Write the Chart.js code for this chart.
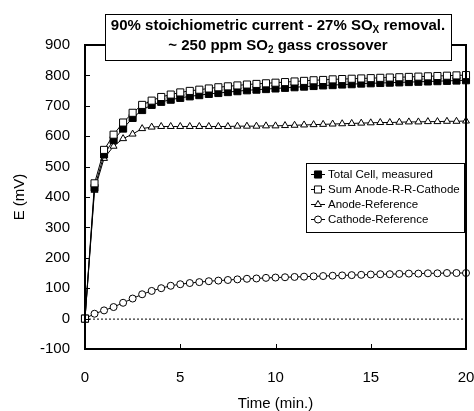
<!DOCTYPE html>
<html>
<head>
<meta charset="utf-8">
<script src="https://cdn.jsdelivr.net/npm/chart.js@4/dist/chart.umd.min.js"></script>
<style>
  html, body { margin: 0; padding: 0; background: #fff; }
</style>
</head>
<body>
<canvas id="myChart" width="474" height="411"></canvas>
<script>
// Time axis (min.)
const times = [0, 0.5, 1, 1.5, 2, 2.5, 3, 3.5, 4, 4.5, 5, 5.5, 6, 6.5, 7, 7.5, 8, 8.5, 9, 9.5, 10,
  10.5, 11, 11.5, 12, 12.5, 13, 13.5, 14, 14.5, 15, 15.5, 16, 16.5, 17, 17.5, 18, 18.5, 19, 19.5, 20];

// Potentials (mV)
const totalCell = [0, 430, 540, 587, 625, 660, 686, 703, 713, 720, 726, 731, 735, 739, 742, 745, 748, 751, 753, 755, 757,
  759, 761, 763, 765, 767, 768, 770, 771, 773, 774, 775, 776, 777, 778, 779, 780, 781, 782, 783, 784];
const sumAnodeCathode = [0, 445, 555, 605, 645, 677, 703, 717, 729, 737, 744, 749, 753, 757, 761, 764, 767, 770, 772, 774, 776,
  778, 780, 782, 784, 785, 787, 788, 789, 790, 791, 792, 793, 794, 795, 796, 797, 798, 799, 800, 801];
const anodeRef = [0, 422, 527, 567, 592, 607, 625, 630, 632, 632, 632, 632, 632, 632, 632, 632, 633, 633, 633, 634, 634,
  635, 636, 637, 638, 639, 640, 641, 642, 643, 644, 645, 645, 646, 647, 647, 648, 648, 649, 649, 650];
const cathodeRef = [0, 16, 27, 38, 52, 66, 80, 91, 100, 108, 113, 117, 120, 123, 125, 127, 129, 131, 132, 134, 135,
  136, 137, 138, 139, 140, 141, 142, 143, 144, 145, 146, 146, 147, 148, 148, 149, 149, 150, 150, 150];

const seriesNames = ['Total Cell, measured', 'Sum Anode-R-R-Cathode', 'Anode-Reference', 'Cathode-Reference'];
const xTicks = [0, 5, 10, 15, 20];
const yTicks = [-100, 0, 100, 200, 300, 400, 500, 600, 700, 800, 900];

const toPoints = arr => arr.map((v, i) => ({ x: times[i], y: v }));

const baseFont = '"Liberation Sans", Arial, sans-serif';

const datasets = [
  { label: seriesNames[0], data: toPoints(totalCell), pointStyle: 'rect', pointRadius: 5,
    pointBackgroundColor: '#000', order: 2 },
  { label: seriesNames[1], data: toPoints(sumAnodeCathode), pointStyle: 'rect', pointRadius: 5,
    pointBackgroundColor: '#fff', order: 1 },
  { label: seriesNames[2], data: toPoints(anodeRef), pointStyle: 'triangle', pointRadius: 4,
    pointBackgroundColor: '#fff', order: 3 },
  { label: seriesNames[3], data: toPoints(cathodeRef), pointStyle: 'circle', pointRadius: 3.5,
    pointBackgroundColor: '#fff', order: 4 }
].map(d => Object.assign({
  borderColor: '#000', borderWidth: 1, pointBorderColor: '#000', pointBorderWidth: 1,
  pointHoverRadius: 0, tension: 0, clip: false
}, d));

// Frame, inward tick marks, dotted zero line, note box and legend box
const decorations = {
  id: 'decorations',
  beforeDatasetsDraw(chart) {
    const { ctx, chartArea: a, scales } = chart;
    const y0 = scales.y.getPixelForValue(0);
    ctx.save();
    ctx.strokeStyle = '#000';
    ctx.lineWidth = 1;
    ctx.setLineDash([2, 2]);
    ctx.beginPath();
    ctx.moveTo(a.left, y0 + 0.5);
    ctx.lineTo(a.right, y0 + 0.5);
    ctx.stroke();
    ctx.restore();
  },
  afterDatasetsDraw(chart) {
    const { ctx, chartArea: a, scales } = chart;
    ctx.save();
    ctx.strokeStyle = '#000';
    ctx.lineWidth = 2;
    ctx.strokeRect(a.left, a.top, a.right - a.left, a.bottom - a.top);
    ctx.lineWidth = 1;
    ctx.beginPath();
    yTicks.forEach(v => {
      const y = Math.round(scales.y.getPixelForValue(v)) + 0.5;
      ctx.moveTo(a.left, y);
      ctx.lineTo(a.left + 5, y);
    });
    xTicks.slice(1, -1).forEach(v => {
      const x = Math.round(scales.x.getPixelForValue(v)) + 0.5;
      ctx.moveTo(x, a.bottom);
      ctx.lineTo(x, a.bottom - 5);
    });
    ctx.stroke();
    ctx.restore();
  },
  afterDraw(chart) {
    const { ctx } = chart;
    ctx.save();

    // note box
    ctx.fillStyle = '#fff';
    ctx.fillRect(105, 14, 346, 46);
    ctx.strokeStyle = '#000';
    ctx.lineWidth = 1;
    ctx.strokeRect(105.5, 14.5, 346, 46);

    const drawRich = (parts, cx, cy) => {
      const big = 'bold 15px ' + baseFont;
      const small = 'bold 10px ' + baseFont;
      let w = 0;
      parts.forEach(p => { ctx.font = p.sub ? small : big; w += ctx.measureText(p.t).width; });
      let x = cx - w / 2;
      ctx.textBaseline = 'alphabetic';
      ctx.textAlign = 'left';
      ctx.fillStyle = '#000';
      parts.forEach(p => {
        ctx.font = p.sub ? small : big;
        ctx.fillText(p.t, x, p.sub ? cy + 3 : cy);
        x += ctx.measureText(p.t).width;
      });
    };
    drawRich([{ t: '90% stoichiometric current - 27% SO' }, { t: 'X', sub: true }, { t: ' removal.' }], 278, 30);
    drawRich([{ t: '~ 250 ppm SO' }, { t: '2', sub: true }, { t: ' gass crossover' }], 278, 49.5);

    // legend box
    ctx.fillStyle = '#fff';
    ctx.fillRect(306, 163, 158, 69);
    ctx.strokeStyle = '#000';
    ctx.strokeRect(306.5, 163.5, 158, 69);
    ctx.font = '11.5px ' + baseFont;
    ctx.textBaseline = 'middle';
    ctx.textAlign = 'left';
    chart.data.datasets.forEach((ds, i) => {
      const y = 174.5 + i * 15;
      ctx.strokeStyle = '#000';
      ctx.lineWidth = 1;
      ctx.beginPath();
      ctx.moveTo(311, y);
      ctx.lineTo(325, y);
      ctx.stroke();
      ctx.fillStyle = ds.pointBackgroundColor;
      Chart.helpers.drawPoint(ctx, {
        pointStyle: ds.pointStyle, radius: ds.pointRadius, rotation: 0,
        borderWidth: 1
      }, 318, y);
      ctx.fillStyle = '#000';
      ctx.fillText(ds.label, 328, y + 0.5);
    });
    ctx.restore();
  }
};

const ctx = document.getElementById('myChart').getContext('2d');
const myChart = new Chart(ctx, {
  type: 'line',
  data: { datasets: datasets },
  plugins: [decorations],
  options: {
    responsive: false,
    animation: false,
    events: [],
    layout: { padding: { top: 45, right: 8, left: 0, bottom: 0 } },
    plugins: { legend: { display: false }, tooltip: { enabled: false } },
    scales: {
      x: {
        type: 'linear',
        min: 0, max: 20,
        afterBuildTicks: s => { s.ticks = xTicks.map(v => ({ value: v })); },
        afterFit: s => { s.height = 62; s.paddingLeft = 0; s.paddingRight = 0; },
        grid: { display: false, drawTicks: false },
        border: { display: false },
        ticks: { color: '#000', padding: 20, maxRotation: 0, font: { family: baseFont, size: 15 } },
        title: { display: true, text: 'Time (min.)', color: '#000', padding: { top: 0, bottom: 0 },
          font: { family: baseFont, size: 15, lineHeight: 1 } }
      },
      y: {
        min: -100, max: 900,
        afterBuildTicks: s => { s.ticks = yTicks.map(v => ({ value: v })); },
        afterFit: s => { s.width = 85; s.paddingTop = 0; s.paddingBottom = 0; },
        grid: { display: false, drawTicks: false },
        border: { display: false },
        ticks: { color: '#000', padding: 15, font: { family: baseFont, size: 15 } },
        title: { display: true, text: 'E (mV)', color: '#000', padding: { top: 11, bottom: 0 },
          font: { family: baseFont, size: 15 } }
      }
    }
  }
});
</script>
</body>
</html>
